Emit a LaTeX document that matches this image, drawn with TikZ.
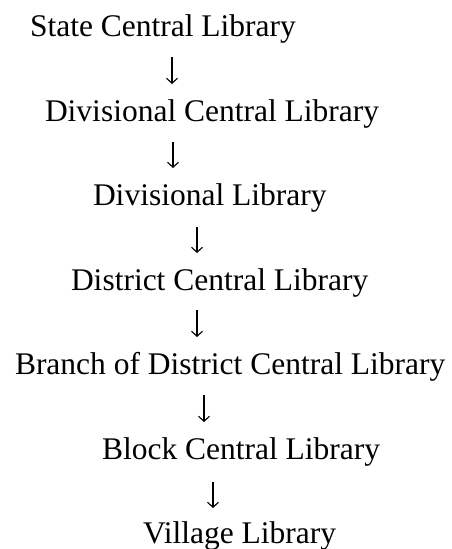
\documentclass[tikz,border=0pt]{standalone}
\usepackage{fontspec}
\setmainfont{Liberation Serif}
\usetikzlibrary{arrows.meta}
\tikzset{
  lvl/.style={anchor=base west, inner sep=0pt, outer sep=0pt, font=\fontsize{31.5}{36}\selectfont},
  arr/.style={line width=1.1pt, -{Straight Barb[length=5pt,width=11pt,line width=1.1pt]}}
}
\begin{document}
\begin{tikzpicture}[x=1pt,y=1pt]
\useasboundingbox (0,0) rectangle (451,-549);
\node[lvl] (n1) at (30,-36.5) {State Central Library};
\node[lvl] (n2) at (45,-121) {Divisional Central Library};
\node[lvl] (n3) at (93,-205.5) {Divisional Library};
\node[lvl] (n4) at (71,-290) {District Central Library};
\node[lvl] (n5) at (15,-374.5) {Branch of District Central Library};
\node[lvl] (n6) at (102,-459) {Block Central Library};
\node[lvl] (n7) at (143,-543.5) {Village Library};
\coordinate (a1s) at (172,-57);  \coordinate (a1e) at (172,-84);
\coordinate (a2s) at (173,-142); \coordinate (a2e) at (173,-168);
\coordinate (a3s) at (197,-227); \coordinate (a3e) at (197,-253);
\coordinate (a4s) at (197,-310); \coordinate (a4e) at (197,-337);
\coordinate (a5s) at (204,-395); \coordinate (a5e) at (204,-422);
\coordinate (a6s) at (213,-482); \coordinate (a6e) at (213,-508);
\draw[arr] (a1s) -- (a1e);
\draw[arr] (a2s) -- (a2e);
\draw[arr] (a3s) -- (a3e);
\draw[arr] (a4s) -- (a4e);
\draw[arr] (a5s) -- (a5e);
\draw[arr] (a6s) -- (a6e);
\end{tikzpicture}
\end{document}
